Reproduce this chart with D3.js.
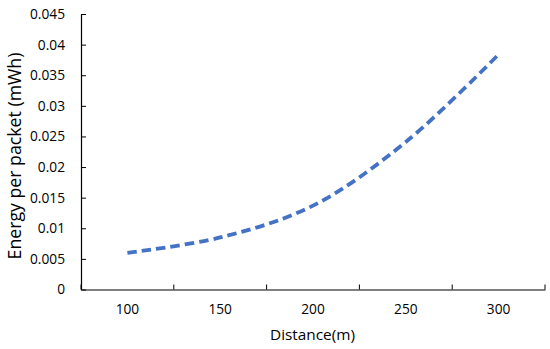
<!DOCTYPE html>
<html><head><meta charset="utf-8">
<script src="https://cdn.jsdelivr.net/npm/d3@7"></script>
<style>body{margin:0;background:#fff}text{font-family:"Open Sans",Calibri,sans-serif;fill:#000}</style>
</head><body><svg id="c" width="550" height="349"></svg>
<script>
const categories = ["100","150","200","250","300"];
const energy = [0.006, 0.0085, 0.0137, 0.0241, 0.0384];
const yTicks = [0,0.005,0.01,0.015,0.02,0.025,0.03,0.035,0.04,0.045];
const yTickLabels = ["0","0.005","0.01","0.015","0.02","0.025","0.03","0.035","0.04","0.045"];

const svg = d3.select("#c");
const L=81, R=545, T=14, B=289.5;
const x = d3.scaleBand().domain(categories).range([L,R]);
const y = d3.scaleLinear().domain([0,0.045]).range([B,T]);

function fit(sel, target){
  const fs = +sel.attr("font-size");
  const w = sel.node().getComputedTextLength();
  if (w>0) sel.attr("font-size", fs*target/w);
}

const xa = svg.append("g").attr("transform",`translate(0,${B})`)
  .call(d3.axisBottom(x).tickSize(0).tickPadding(15).tickSizeOuter(0));
xa.select(".domain").attr("stroke","#000").attr("stroke-width",1.2);
const bounds = categories.map(c=>x(c)).concat([R]);
svg.append("g").selectAll("line").data(bounds).join("line")
  .attr("x1",d=>d).attr("x2",d=>d).attr("y1",B).attr("y2",B-5)
  .attr("stroke","#000").attr("stroke-width",1);

const ya = svg.append("g").attr("transform",`translate(${L},0)`)
  .call(d3.axisLeft(y).tickValues(yTicks).tickFormat((d,i)=>yTickLabels[i]).tickSize(-5).tickPadding(16).tickSizeOuter(0));
ya.select(".domain").attr("stroke","#000").attr("stroke-width",1.2);
ya.selectAll(".tick line").attr("stroke","#000");

// size tick labels so "0.045" spans ~35px as in the reference
const allTicks = svg.selectAll(".tick text").attr("font-size",14);
const probe = ya.selectAll(".tick text").filter((d,i)=>i===yTicks.length-1);
const w0 = probe.node().getComputedTextLength();
const tfs = 14*35/w0;
allTicks.attr("font-size",tfs);

const line = d3.line().x((d,i)=>x(categories[i])+x.bandwidth()/2).y(d=>y(d)).curve(d3.curveCatmullRom.alpha(0.5));
svg.append("path").datum(energy).attr("d",line).attr("fill","none")
  .attr("stroke","#4472C4").attr("stroke-width",3.8).attr("stroke-dasharray","9.5,5");

const xt = svg.append("text").attr("x",312.5).attr("y",340).attr("text-anchor","middle").attr("font-size",15).text("Distance(m)");
fit(xt, 85);
const yt = svg.append("text").attr("transform",`translate(21,156) rotate(-90)`).attr("text-anchor","middle").attr("font-size",15).text("Energy per packet (mWh)");
fit(yt, 207);
</script></body></html>
